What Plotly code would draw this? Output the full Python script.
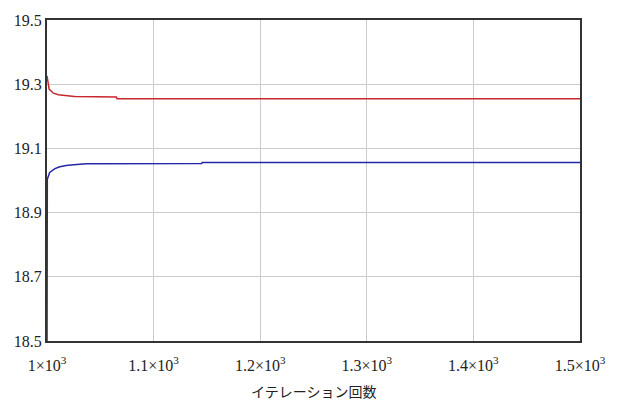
import plotly.graph_objects as go

# Data
red_x = [1000, 1002, 1006, 1010.6, 1017, 1026, 1065, 1065.7, 1500]
red_y = [19.326, 19.285, 19.272, 19.267, 19.265, 19.262, 19.260, 19.255, 19.255]

blue_x = [1000, 1000.3, 1002.5, 1007.5, 1012, 1018, 1025, 1037, 1145, 1145.5, 1500]
blue_y = [18.5, 19.004, 19.025, 19.037, 19.043, 19.047, 19.049, 19.052, 19.053, 19.056, 19.056]

x_ticks = [1000, 1100, 1200, 1300, 1400, 1500]
x_labels = ["1×10<sup>3</sup>", "1.1×10<sup>3</sup>", "1.2×10<sup>3</sup>",
            "1.3×10<sup>3</sup>", "1.4×10<sup>3</sup>", "1.5×10<sup>3</sup>"]
y_ticks = [18.5, 18.7, 18.9, 19.1, 19.3, 19.5]
y_labels = ["18.5", "18.7", "18.9", "19.1", "19.3", "19.5"]
x_title = "イテレーション回数"

fig = go.Figure()
fig.add_trace(go.Scatter(x=red_x, y=red_y, mode="lines",
                         line=dict(color="#c8282d", width=1.5), showlegend=False))
fig.add_trace(go.Scatter(x=blue_x, y=blue_y, mode="lines",
                         line=dict(color="#2626a8", width=1.5), showlegend=False))

fig.update_layout(
    width=629, height=415,
    margin=dict(l=47, r=49, t=15, b=74),
    paper_bgcolor="white", plot_bgcolor="white",
    font=dict(family="Liberation Serif", size=16, color="#222222"),
    xaxis=dict(range=[1000, 1500], tickmode="array", tickvals=x_ticks, ticktext=x_labels,
               showgrid=True, gridcolor="#cccccc", gridwidth=1,
               showline=True, mirror=True, linecolor="#333333", linewidth=2,
               ticks="outside", ticklen=9, tickcolor="rgba(0,0,0,0)",
               zeroline=False),
    yaxis=dict(range=[18.5, 19.5], tickmode="array", tickvals=y_ticks, ticktext=y_labels,
               showgrid=True, gridcolor="#cccccc", gridwidth=1,
               showline=True, mirror=True, linecolor="#333333", linewidth=2,
               ticks="", zeroline=False),
    annotations=[dict(text=x_title, xref="paper", yref="paper", x=0.5, y=-0.157,
                      xanchor="center", yanchor="middle", showarrow=False,
                      font=dict(family="Noto Sans CJK JP", size=14, color="#222222"))],
)

fig.write_html("out.html")
